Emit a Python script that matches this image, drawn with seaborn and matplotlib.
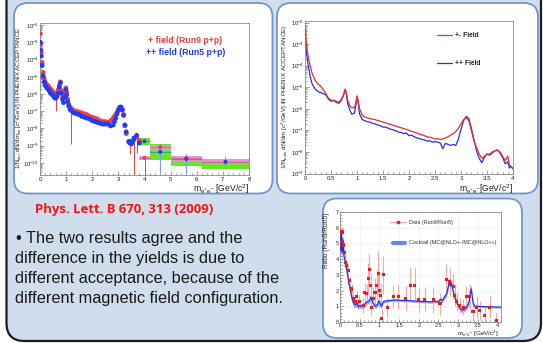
import numpy as np
import pandas as pd
import matplotlib
matplotlib.use("Agg")
import matplotlib.pyplot as plt
import seaborn as sns
from matplotlib.patches import FancyBboxPatch
from matplotlib.transforms import IdentityTransform
from matplotlib.ticker import LogLocator, NullFormatter, MultipleLocator, FixedLocator

# ---------------- data: panel 1 (published spectra, log10 yields) ----------------
mass1 = [0.01,0.03,0.05,0.08,0.12,0.16,0.2,0.25,0.3,0.35,0.4,0.45,0.5,0.55,0.6,0.65,0.7,0.74,0.78,0.82,
         0.86,0.9,0.95,0.99,1.02,1.06,1.1,1.15,1.2,1.3,1.4,1.5,1.6,1.7,1.8,1.9,2.0,2.1,2.2,2.3,
         2.4,2.5,2.6,2.7,2.8,2.85,2.9,2.95,3.0,3.05,3.1,3.15,3.2,3.25,3.3,3.4,3.45,3.5,3.55,3.6,3.7,3.8]
run5_log = [-3.0,-3.45,-3.8,-4.35,-4.95,-5.3,-5.5,-5.62,-5.7,-5.8,-5.95,-6.0,-6.1,-6.2,-6.25,-6.15,-5.95,-5.6,-5.35,-5.95,
            -6.3,-6.5,-6.2,-5.75,-6.05,-6.45,-6.7,-6.9,-6.97,-7.1,-7.15,-7.2,-7.3,-7.35,-7.4,-7.45,-7.55,-7.6,-7.65,-7.7,
            -7.75,-7.75,-7.75,-7.85,-7.8,-7.6,-7.4,-7.15,-6.95,-6.78,-6.75,-6.9,-7.2,-7.8,-8.2,-8.75,-8.85,-8.9,-8.75,-8.55,-8.4,-8.85]
run9_log = [-2.5,-3.1,-3.6,-4.2,-4.75,-5.1,-5.3,-5.45,-5.5,-5.6,-5.7,-5.8,-5.9,-5.95,-6.05,-5.95,-5.75,-5.5,-5.3,-5.8,
            -6.1,-6.2,-6.0,-5.65,-5.9,-6.3,-6.6,-6.75,-6.85,-6.95,-7.0,-7.05,-7.1,-7.15,-7.2,-7.3,-7.35,-7.4,-7.45,-7.55,
            -7.6,-7.6,-7.65,-7.55,-7.4,-7.3,-7.2,-7.05,-6.9,-6.8,-6.8,-6.95,-7.25,-7.85,-8.3,-8.8,-8.75,-8.85,-8.7,-8.65,-8.5,-8.7]
run9_tail_mass = [0.6, 1.2, 3.45, 3.6, 3.7]
run9_tail_low = [-7.0, -8.9, -9.5, -10.8, -9.4]

hm_center = [4.0, 4.6, 5.6, 7.1]
hm_lo = [3.8, 4.2, 5.0, 6.2]
hm_hi = [4.2, 5.0, 6.2, 8.0]
run5_hm = [-8.74, -9.36, -9.77, -9.94]
run5_sys_lo = [-8.98, -9.84, -10.19, -10.38]
run5_sys_hi = [-8.55, -8.88, -9.61, -9.75]
run5_err_lo = [-8.9, -10.6, -10.7, -10.3]
run5_err_hi = [-8.6, -8.9, -9.5, -9.6]
run9_hm = [-9.7, -9.08, -9.72, -9.94]
run9_sys_lo = [-9.84, -9.23, -9.87, -10.09]
run9_sys_hi = [-9.57, -8.94, -9.6, -9.8]
run9_err_lo = [-10.8, -9.3, -10.0, -10.1]
run9_err_hi = [-9.6, -8.9, -9.5, -9.8]

# ---------------- data: panel 2 (simulated spectra, log10 yields) ----------------
mass2 = [0.0,0.01,0.02,0.03,0.05,0.07,0.1,0.13,0.16,0.2,0.25,0.3,0.35,0.4,0.45,0.5,0.55,0.6,0.65,0.7,
         0.74,0.77,0.79,0.82,0.86,0.9,0.95,0.98,1.0,1.02,1.05,1.1,1.15,1.2,1.25,1.3,1.35,1.4,1.45,1.5,
         1.55,1.6,1.65,1.7,1.75,1.8,1.85,1.9,1.95,2.0,2.05,2.1,2.15,2.2,2.25,2.3,2.35,2.4,2.45,2.5,
         2.55,2.6,2.65,2.7,2.75,2.8,2.85,2.9,2.95,3.0,3.05,3.1,3.15,3.2,3.25,3.3,3.35,3.4,3.45,3.5,
         3.55,3.6,3.65,3.7,3.75,3.8,3.85,3.9,3.93,3.96,4.0]
pp_log = [-3.0,-2.9,-3.2,-3.4,-3.8,-4.1,-4.5,-4.8,-4.95,-5.1,-5.2,-5.25,-5.3,-5.35,-5.55,-5.65,-5.62,-5.7,-5.75,-5.6,
          -5.4,-5.1,-5.25,-5.75,-6.05,-6.25,-6.2,-5.8,-5.45,-5.7,-6.25,-6.5,-6.55,-6.6,-6.62,-6.68,-6.7,-6.75,-6.78,-6.85,
          -6.85,-6.9,-6.95,-6.98,-7.02,-7.08,-7.1,-7.15,-7.12,-7.25,-7.22,-7.3,-7.35,-7.38,-7.42,-7.45,-7.5,-7.48,-7.55,-7.52,
          -7.55,-7.58,-7.85,-7.6,-7.65,-7.7,-7.65,-7.7,-7.4,-6.95,-6.55,-6.35,-6.45,-6.9,-7.45,-7.95,-8.3,-8.5,-8.25,-8.1,
          -8.15,-8.05,-7.95,-7.9,-8.05,-8.25,-8.55,-8.45,-8.75,-8.65,-8.8]
pm_log = [-2.6,-2.3,-2.7,-3.0,-3.4,-3.7,-4.0,-4.3,-4.5,-4.7,-4.85,-4.95,-5.1,-5.3,-5.5,-5.6,-5.6,-5.65,-5.7,-5.55,
          -5.35,-5.1,-5.2,-5.6,-5.85,-5.95,-5.95,-5.7,-5.4,-5.6,-6.0,-6.3,-6.38,-6.42,-6.45,-6.48,-6.5,-6.55,-6.58,-6.62,
          -6.65,-6.7,-6.72,-6.78,-6.8,-6.85,-6.88,-6.92,-6.95,-7.0,-7.05,-7.08,-7.12,-7.18,-7.2,-7.25,-7.3,-7.32,-7.35,-7.4,
          -7.38,-7.42,-7.4,-7.35,-7.3,-7.22,-7.15,-7.05,-6.9,-6.7,-6.5,-6.42,-6.55,-7.0,-7.5,-7.8,-8.1,-8.3,-8.2,-8.1,
          -8.1,-8.0,-7.95,-7.92,-8.0,-8.2,-8.4,-8.2,-8.6,-8.7,-8.75]

# ---------------- data: panel 3 (ratio) ----------------
ratio_mass = [0.05,0.07,0.08,0.11,0.13,0.17,0.21,0.25,0.3,0.34,0.38,0.42,0.49,0.59,0.63,0.68,0.72,0.74,0.78,0.8,
              0.85,0.89,0.93,0.97,1.0,1.03,1.06,1.1,1.2,1.35,1.48,1.67,1.78,1.9,2.0,2.15,2.37,2.54,2.7,2.79,
              2.88,2.92,2.96,3.04,3.13,3.21,3.3,3.38,3.47,3.55,3.68,3.8,3.97]
ratio_val = [5.73,5.1,4.9,4.4,3.8,3.6,3.3,2.65,2.1,1.5,1.3,1.6,1.3,1.05,1.9,1.8,2.75,3.35,2.35,0.95,
             1.5,1.9,2.3,3.1,2.0,1.7,0.2,3.0,0.95,1.6,1.65,1.5,2.35,2.35,1.45,1.45,1.4,1.15,2.7,2.55,
             2.25,1.7,1.3,1.05,0.95,1.6,1.6,0.65,0.95,0.75,0.4,0.95,0.1]
ratio_err = [0.3,0.3,0.3,0.3,0.3,0.3,0.3,0.3,0.3,0.3,0.3,0.4,0.4,0.5,0.6,0.6,1.0,1.0,0.8,0.5,
             0.7,0.9,1.0,1.4,1.1,0.8,0.6,1.2,0.6,0.7,0.8,0.8,1.1,1.1,0.8,0.8,0.8,0.7,1.0,0.9,
             0.8,0.7,0.6,0.5,0.5,0.7,0.8,0.6,0.7,0.6,0.6,0.7,0.5]
ck_mass = [0.02,0.03,0.04,0.05,0.06,0.08,0.1,0.12,0.14,0.16,0.18,0.2,0.22,0.25,0.28,0.3,0.33,0.36,0.4,0.43,
           0.46,0.5,0.55,0.6,0.65,0.7,0.75,0.78,0.81,0.85,0.9,0.95,0.99,1.02,1.05,1.1,1.2,1.3,1.4,1.5,
           1.6,1.7,1.8,1.9,2.0,2.1,2.2,2.3,2.4,2.5,2.55,2.6,2.65,2.7,2.73,2.76,2.78,2.8,2.83,2.86,
           2.9,2.95,3.0,3.05,3.1,3.15,3.2,3.25,3.28,3.31,3.33,3.35,3.38,3.42,3.5,3.6,3.7,3.8,3.9,4.0,4.1]
ck_val = [4.5,5.6,4.6,5.3,4.4,5.0,4.2,4.0,3.8,3.5,3.2,2.9,2.5,2.2,1.8,1.55,1.3,1.15,1.1,1.25,
          0.95,1.05,1.0,1.05,1.2,1.3,1.35,1.6,1.4,1.15,1.0,1.1,1.35,1.15,1.0,1.3,1.35,1.38,1.4,1.38,
          1.37,1.36,1.35,1.33,1.32,1.3,1.3,1.28,1.3,1.3,1.45,1.35,1.6,1.75,2.0,2.4,2.6,2.3,2.5,2.1,
          1.7,1.35,1.05,0.85,0.75,0.8,0.9,1.1,1.3,1.9,2.1,1.8,1.2,1.0,1.0,0.98,0.97,0.96,0.96,0.95,0.95]
ck_err = [0.6,0.6,0.6,0.6,0.6,0.5,0.5,0.5,0.4,0.4,0.35,0.35,0.3,0.3,0.3,0.3,0.25,0.25,0.2,0.2,
          0.2,0.15,0.15,0.15,0.15,0.15,0.15,0.15,0.15,0.15,0.15,0.15,0.15,0.15,0.15,0.1,0.08,0.08,0.08,0.08,
          0.08,0.08,0.08,0.08,0.08,0.08,0.08,0.08,0.08,0.1,0.12,0.12,0.15,0.2,0.2,0.25,0.25,0.25,0.25,0.2,
          0.2,0.2,0.15,0.15,0.15,0.15,0.15,0.2,0.25,0.25,0.25,0.25,0.2,0.1,0.06,0.06,0.06,0.06,0.06,0.06,0.06]

# ---------------- figure and slide background ----------------
sns.set_style("ticks")
plt.rcParams['font.family'] = ['Liberation Sans', 'DejaVu Sans']
plt.rcParams['mathtext.fontset'] = 'custom'
plt.rcParams['mathtext.rm'] = 'Liberation Sans'
plt.rcParams['mathtext.it'] = 'Liberation Sans'

W, H = 543, 343
fig = plt.figure(figsize=(W / 100, H / 100), dpi=100)
fig.patch.set_facecolor('white')


def rect(x0, y0, x1, y1):
    return [x0 / W, 1 - y1 / H, (x1 - x0) / W, (y1 - y0) / H]


def box(x0, y0, x1, y1, fc, ec, lw, r, z):
    p = FancyBboxPatch((x0, H - y1), x1 - x0, y1 - y0,
                       boxstyle=f"round,pad=0,rounding_size={r}",
                       transform=IdentityTransform(), fc=fc, ec=ec, lw=lw, zorder=z)
    fig.add_artist(p)


box(6.5, -40, 541, 341, '#cfdded', '#1c1c1c', 1.6, 18, -20)
box(14, 3, 272.5, 193.5, 'white', '#6f98c8', 1.3, 14, -10)
box(277, 3, 538, 193.5, 'white', '#6f98c8', 1.3, 14, -10)
box(323, 198.5, 522, 338, 'white', '#6f98c8', 1.3, 14, -5)


def style(ax):
    for s in ax.spines.values():
        s.set_visible(True)
        s.set_color('#8a8a8a')
        s.set_linewidth(0.6)
    ax.tick_params(which='both', direction='in', colors='#777777', labelcolor='#222222',
                   labelsize=4.4, width=0.5, pad=1.5, top=False, right=False)
    ax.tick_params(which='major', length=3.2)
    ax.tick_params(which='minor', length=1.6)
    ax.set_xlabel('')
    ax.set_ylabel('')
    ax.set_facecolor('white')


RED = '#f43a3a'
BLUE = '#1c3dfa'

# ---------------- panel 1 ----------------
ax1 = fig.add_axes(rect(40, 23, 249, 175))
df1 = pd.DataFrame({'m': mass1, 'run5': 10 ** np.array(run5_log), 'run9': 10 ** np.array(run9_log)})
cont = df1[(df1.m >= 1.2) & (df1.m <= 2.85)]
ax1.bar(cont.m, cont.run9 * (10 ** 0.09 - 10 ** -0.09), bottom=cont.run9 * 10 ** -0.09, width=0.1,
        color='#f08ce0', alpha=0.85, linewidth=0, zorder=1)
ax1.bar(cont.m, cont.run5 * (10 ** 0.07 - 10 ** -0.07), bottom=cont.run5 * 10 ** -0.07, width=0.1,
        color='#66e826', alpha=0.85, linewidth=0, zorder=1)
hm = pd.DataFrame({'c': hm_center, 'lo': hm_lo, 'hi': hm_hi,
                   'r5': 10 ** np.array(run5_hm), 'r5slo': 10 ** np.array(run5_sys_lo), 'r5shi': 10 ** np.array(run5_sys_hi),
                   'r5elo': 10 ** np.array(run5_err_lo), 'r5ehi': 10 ** np.array(run5_err_hi),
                   'r9': 10 ** np.array(run9_hm), 'r9slo': 10 ** np.array(run9_sys_lo), 'r9shi': 10 ** np.array(run9_sys_hi),
                   'r9elo': 10 ** np.array(run9_err_lo), 'r9ehi': 10 ** np.array(run9_err_hi)})
ax1.bar(hm.lo, hm.r5shi - hm.r5slo, bottom=hm.r5slo, width=hm.hi - hm.lo, align='edge',
        color='#66e826', linewidth=0, zorder=1)
ax1.bar(hm.lo, hm.r9shi - hm.r9slo, bottom=hm.r9slo, width=hm.hi - hm.lo, align='edge',
        color='#f08ce0', alpha=0.9, linewidth=0, zorder=1.5)
ax1.hlines(hm.r5, hm.lo, hm.hi, color='#2a9a8a', lw=0.6, zorder=2)
ax1.hlines(hm.r9, hm.lo, hm.hi, color='#e05aa0', lw=0.6, zorder=2)
ax1.vlines(run9_tail_mass, 10 ** np.array(run9_tail_low),
           10 ** np.array([run9_log[mass1.index(m)] for m in run9_tail_mass]), color=RED, lw=0.7, zorder=2)
ax1.vlines(hm.c, hm.r9elo, hm.r9ehi, color=RED, lw=0.7, zorder=2)
ax1.vlines(hm.c, hm.r5elo, hm.r5ehi, color='#7a9cff', lw=0.8, zorder=2)
sns.scatterplot(data=df1, x='m', y='run9', color=RED, s=12, edgecolor='none', ax=ax1, zorder=3)
sns.scatterplot(data=df1, x='m', y='run5', color=BLUE, s=12, edgecolor='none', ax=ax1, zorder=4)
sns.scatterplot(data=hm, x='c', y='r9', color=RED, s=8, edgecolor='none', ax=ax1, zorder=3)
sns.scatterplot(data=hm, x='c', y='r5', color=BLUE, s=8, edgecolor='none', ax=ax1, zorder=4)
ax1.set_yscale('log')
ax1.set_xlim(0, 8)
ax1.set_ylim(10 ** -10.7, 10 ** -1.88)
ax1.xaxis.set_major_locator(MultipleLocator(1))
ax1.xaxis.set_minor_locator(MultipleLocator(0.2))
ax1.yaxis.set_major_locator(FixedLocator([10.0 ** k for k in range(-10, -1)]))
ax1.yaxis.set_minor_locator(LogLocator(base=10, subs=np.arange(2, 10), numticks=30))
ax1.yaxis.set_minor_formatter(NullFormatter())
style(ax1)
ax1.tick_params(axis='y', pad=0.8, labelsize=4.2)
ax1.text(0.517, 0.885, '+ field (Run9 p+p)', transform=ax1.transAxes, color=RED,
         fontsize=6.3, fontweight='bold', va='center')
ax1.text(0.505, 0.805, '++ field (Run5 p+p)', transform=ax1.transAxes, color=BLUE,
         fontsize=6.3, fontweight='bold', va='center')
fig.text(249 / W, 1 - 192.3 / H, r'm$_{e^{+}e^{-}}$ [GeV/c$^{2}$]', ha='right', va='baseline',
         fontsize=6.2, color='#222222')
yl1 = fig.text(18.5 / W, 1 - 98 / H, r'1/N$_{evt}$ dN/dm$_{ee}$ [c$^{2}$/GeV] IN PHENIX ACCEPTANCE',
               rotation=90, ha='center', va='center', fontsize=5.2, color='#222222')

# ---------------- panel 2 ----------------
ax2 = fig.add_axes(rect(305, 21, 513, 173.5))
df2 = pd.DataFrame({'m': mass2, 'pm': 10 ** np.array(pm_log), 'pp': 10 ** np.array(pp_log)})
sns.lineplot(data=df2, x='m', y='pm', color='#f22a2a', lw=0.9, ax=ax2, zorder=3)
sns.lineplot(data=df2, x='m', y='pp', color='#2030f0', lw=0.9, ax=ax2, zorder=2)
ax2.set_yscale('log')
ax2.set_xlim(0, 4)
ax2.set_ylim(1e-9, 10 ** -1.93)
ax2.set_xticks([0, 0.5, 1, 1.5, 2, 2.5, 3, 3.5, 4])
ax2.set_xticklabels(['0', '0.5', '1', '1.5', '2', '2.5', '3', '3.5', '4'])
ax2.xaxis.set_minor_locator(MultipleLocator(0.1))
ax2.yaxis.set_major_locator(FixedLocator([10.0 ** k for k in range(-9, -1)]))
ax2.yaxis.set_minor_locator(LogLocator(base=10, subs=np.arange(2, 10), numticks=30))
ax2.yaxis.set_minor_formatter(NullFormatter())
style(ax2)
ax2.tick_params(axis='y', pad=0.6, labelsize=4.2)
ax2.plot([0.635, 0.705], [0.905, 0.905], transform=ax2.transAxes, color='#f22a2a', lw=0.9)
ax2.text(0.722, 0.905, '+- Field', transform=ax2.transAxes, fontsize=4.8, fontweight='bold',
         va='center', color='#222222')
ax2.plot([0.635, 0.705], [0.722, 0.722], transform=ax2.transAxes, color='#2030f0', lw=0.9)
ax2.text(0.722, 0.722, '++ Field', transform=ax2.transAxes, fontsize=4.8, fontweight='bold',
         va='center', color='#222222')
fig.text(513 / W, 1 - 191.5 / H, r'm$_{e^{+}e^{-}}$[GeV/c$^{2}$]', ha='right', va='baseline',
         fontsize=6.2, color='#222222')
yl2 = fig.text(285 / W, 1 - 97 / H, r'1/N$_{evts}$ dN/dm [c$^{2}$/GeV] IN PHENIX ACCEPTANCE)',
               rotation=90, ha='center', va='center', fontsize=5.0, color='#222222')

# ---------------- panel 3 ----------------
ax3 = fig.add_axes(rect(340, 212, 501, 322))
ax3.grid(True, which='major', color='#cfcfcf', lw=0.4, ls=':')
ck = pd.DataFrame({'m': ck_mass, 'v': ck_val, 'e': ck_err})
ax3.fill_between(ck.m, ck.v - ck.e, ck.v + ck.e, color='#4a64f5', alpha=0.55, lw=0, zorder=2)
sns.lineplot(data=ck, x='m', y='v', color='#1530f0', lw=0.8, ax=ax3, zorder=3)
rd = pd.DataFrame({'m': ratio_mass, 'v': ratio_val, 'e': ratio_err})
ax3.errorbar(rd.m, rd.v, yerr=rd.e, fmt='none', ecolor='#f7a5a5', elinewidth=0.8, zorder=2.5)
sns.scatterplot(data=rd, x='m', y='v', color='#f21818', marker='s', s=5, edgecolor='none', ax=ax3, zorder=4)
ax3.set_xlim(0, 4.09)
ax3.set_ylim(0, 7)
ax3.set_xticks([0, 0.5, 1, 1.5, 2, 2.5, 3, 3.5, 4])
ax3.set_xticklabels(['0', '0.5', '1', '1.5', '2', '2.5', '3', '3.5', '4'])
ax3.xaxis.set_minor_locator(MultipleLocator(0.1))
ax3.yaxis.set_major_locator(MultipleLocator(1))
ax3.yaxis.set_minor_locator(MultipleLocator(0.2))
style(ax3)
ax3.tick_params(labelsize=4.0, pad=1.0)
ax3.tick_params(which='major', length=2.4)
ax3.tick_params(which='minor', length=1.2)
ax3.plot([0.31, 0.41], [0.905, 0.905], transform=ax3.transAxes, color='#f7a5a5', lw=0.8)
ax3.plot([0.36], [0.905], transform=ax3.transAxes, color='#f21818', marker='s', ms=2, lw=0)
ax3.text(0.43, 0.905, 'Data (Run9/Run5)', transform=ax3.transAxes, fontsize=3.9, va='center', color='#333333')
ax3.plot([0.33, 0.405], [0.72, 0.72], transform=ax3.transAxes, color='#6a80f5', lw=3)
ax3.text(0.43, 0.72, 'Cocktail (MC@NLO+-/MC@NLO++)', transform=ax3.transAxes, fontsize=3.9,
         va='center', color='#333333')
fig.text(499 / W, 1 - 335.5 / H, r'm$_{e^{+}e^{-}}$ [GeV/c$^{2}$]', ha='right', va='baseline',
         fontsize=4.6, color='#222222')
fig.text(327 / W, 1 - 212 / H, 'Ratio (Run9/Run5)', rotation=90, ha='center', va='top',
         fontsize=4.8, color='#222222')

# ---------------- slide text ----------------
cite = fig.text(35 / W, 1 - 212.7 / H, 'Phys. Lett. B 670, 313 (2009)', color='#ff1010',
                fontsize=9, fontweight='bold', family=['Open Sans', 'DejaVu Sans'], va='baseline')
lines = ['\u2022 The two results agree and the',
         'difference in the yields is due to',
         'different acceptance, because of the',
         'different magnetic field configuration.']
baselines = [243.3, 263.5, 283.5, 303.5]
lefts = [15.5, 15, 15, 15]
txts = [fig.text(lx / W, 1 - b / H, s, fontsize=11.5, color='#1a1a1a', va='baseline')
        for s, b, lx in zip(lines, baselines, lefts)]

# fit text sizes to the measured widths/heights in the reference
renderer = fig.canvas.get_renderer()


def fit(t, target, dim='w'):
    bb = t.get_window_extent(renderer)
    cur = bb.width if dim == 'w' else bb.height
    t.set_fontsize(t.get_fontsize() * target / cur)


fit(txts[3], 268)
for t in txts[:3]:
    t.set_fontsize(txts[3].get_fontsize())
fit(cite, 178)
fit(yl1, 144, 'h')
fit(yl2, 146, 'h')

fig.savefig('out.png', dpi=100, facecolor='white')
